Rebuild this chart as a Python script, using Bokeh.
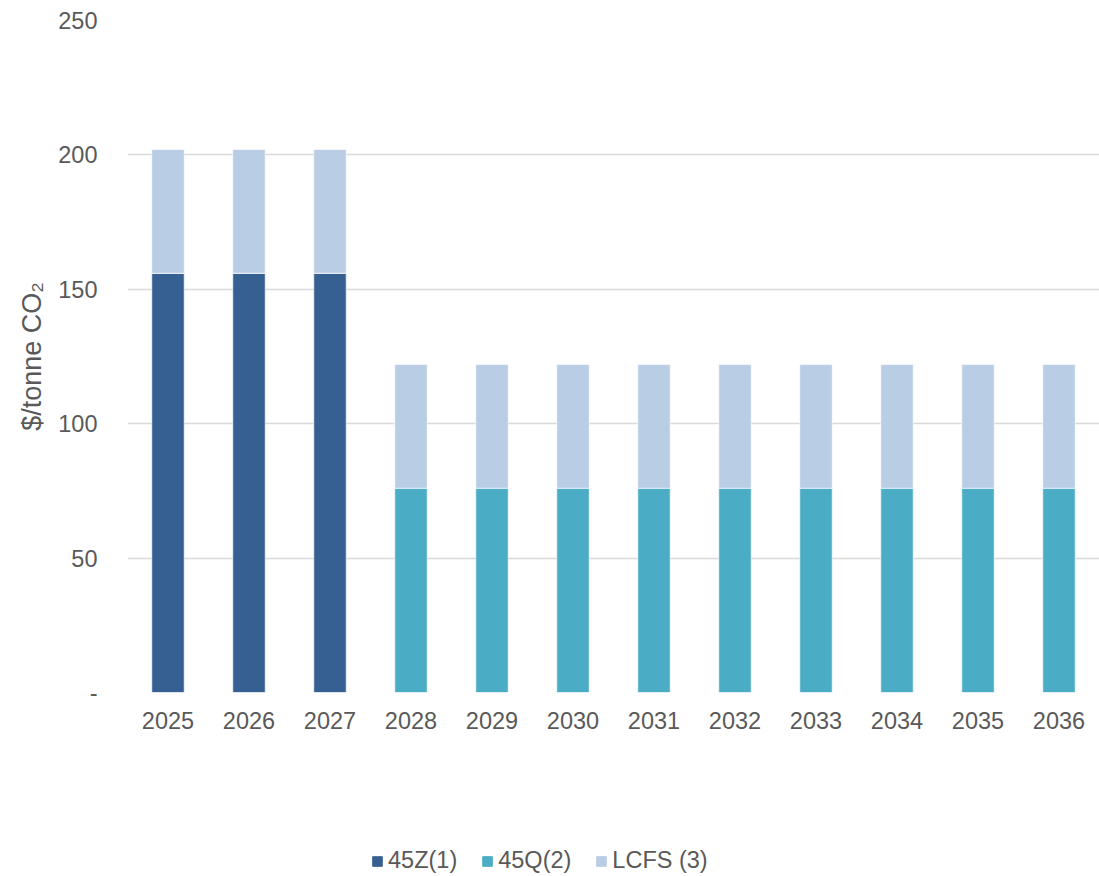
from bokeh.plotting import figure
from bokeh.layouts import column
from bokeh.models import FactorRange, Range1d, Legend, LegendItem, FixedTicker
from bokeh.embed import file_html
from bokeh.resources import INLINE

years = ["2025", "2026", "2027", "2028", "2029", "2030",
         "2031", "2032", "2033", "2034", "2035", "2036"]
credit_45z = [156, 156, 156, 0, 0, 0, 0, 0, 0, 0, 0, 0]
credit_45q = [0, 0, 0, 76, 76, 76, 76, 76, 76, 76, 76, 76]
credit_lcfs = [46, 46, 46, 46, 46, 46, 46, 46, 46, 46, 46, 46]
series = ["45Z(1)", "45Q(2)", "LCFS (3)"]
y_ticks = [0, 50, 100, 150, 200, 250]

colors = ["#366092", "#4BACC6", "#B9CDE5"]
FONT = "Liberation Sans"
TXT = "#595959"

data = {"years": years, "z": credit_45z, "q": credit_45q, "l": credit_lcfs}

p = figure(width=1099, height=830, x_range=FactorRange(*years, range_padding=0),
           y_range=Range1d(0, 250), output_backend="svg", toolbar_location=None,
           min_border_left=127, min_border_right=0, min_border_top=20,
           min_border_bottom=138)
p.outline_line_color = None

rs = p.vbar_stack(["z", "q", "l"], x="years", width=0.4, source=data,
                  color=colors, line_color="white", line_width=0.6)

p.xgrid.grid_line_color = None
p.ygrid.grid_line_color = "#D9D9D9"
p.ygrid.grid_line_width = 1.3
p.yaxis.ticker = FixedTicker(ticks=y_ticks)
p.yaxis.major_label_overrides = {0: "-"}
for ax in (p.xaxis[0], p.yaxis[0]):
    ax.axis_line_color = None
    ax.major_tick_line_color = None
    ax.minor_tick_line_color = None
    ax.major_label_text_font = FONT
    ax.major_label_text_font_size = "23.5px"
    ax.major_label_text_color = TXT
p.yaxis.major_label_standoff = 24
p.xaxis.major_label_standoff = 13
p.yaxis.axis_label = "$/tonne CO₂"
p.yaxis.axis_label_text_font = FONT
p.yaxis.axis_label_text_font_size = "27px"
p.yaxis.axis_label_text_font_style = "normal"
p.yaxis.axis_label_text_color = TXT
p.yaxis.axis_label_standoff = 8

# legend strip below the chart (its frame is aligned with the chart's frame)
lg = figure(width=1099, height=46, output_backend="svg", toolbar_location=None,
            x_axis_type=None, y_axis_type=None, min_border=0,
            x_range=Range1d(0, 1), y_range=Range1d(0, 1))
lg.outline_line_color = None
lg.xgrid.grid_line_color = None
lg.ygrid.grid_line_color = None
nan = float("nan")
keys = [lg.vbar(x=[nan], top=[nan], width=1, color=c) for c in colors]
legend = Legend(items=[LegendItem(label=s, renderers=[r]) for s, r in zip(series, keys)],
                orientation="horizontal", location=(244, 2),
                glyph_width=12, glyph_height=12, label_standoff=5, spacing=24,
                padding=0, margin=0, border_line_color=None,
                background_fill_alpha=0,
                label_text_font=FONT, label_text_font_size="23.5px",
                label_text_color=TXT)
lg.add_layout(legend, "center")

open("out.html", "w").write(file_html(column(p, lg, spacing=0), INLINE))
